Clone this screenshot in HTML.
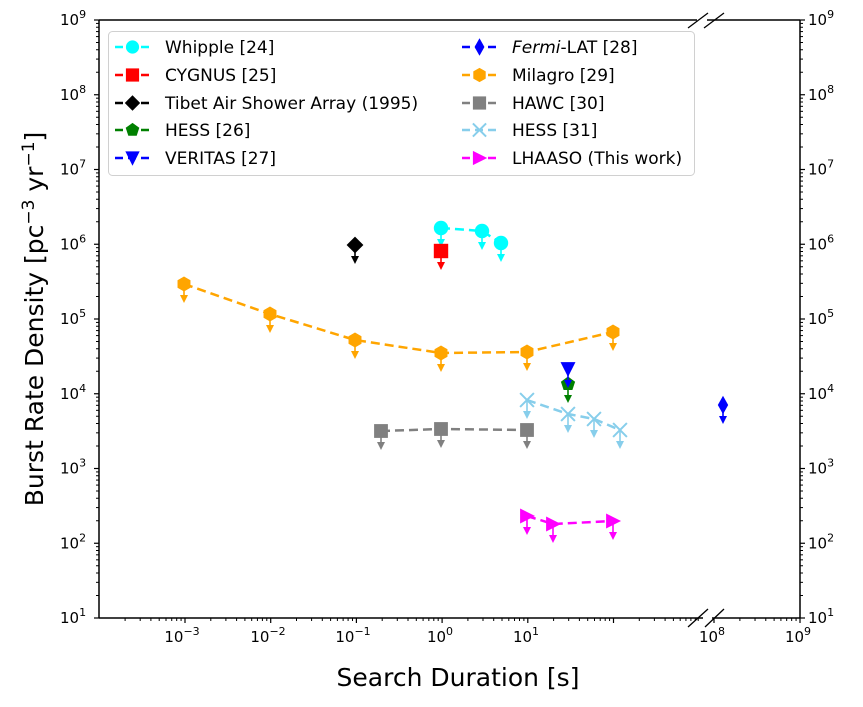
<!DOCTYPE html>
<html><head><meta charset="utf-8"><style>
body{margin:0;background:#fff;}
svg{display:block;font-family:"DejaVu Sans","Liberation Sans",sans-serif;}
</style></head><body>
<svg id="s" width="863" height="707" viewBox="0 0 863 707" xmlns="http://www.w3.org/2000/svg">
<rect width="863" height="707" fill="#fff"/>
<g id="g"></g>
<text x="458" y="686" font-size="25" text-anchor="middle">Search Duration [s]</text>
<text transform="translate(43,319) rotate(-90)" font-size="25" text-anchor="middle">Burst Rate Density [pc<tspan dy="-9" font-size="17">−3</tspan><tspan dy="9"> yr</tspan><tspan dy="-9" font-size="17">−1</tspan><tspan dy="9">]</tspan></text>
<g font-size="15" text-anchor="middle">
<text x="182" y="642">10<tspan dy="-7" font-size="11">−3</tspan></text>
<text x="268" y="642">10<tspan dy="-7" font-size="11">−2</tspan></text>
<text x="353" y="642">10<tspan dy="-7" font-size="11">−1</tspan></text>
<text x="440" y="642">10<tspan dy="-7" font-size="11">0</tspan></text>
<text x="526" y="642">10<tspan dy="-7" font-size="11">1</tspan></text>
<text x="712" y="642">10<tspan dy="-7" font-size="11">8</tspan></text>
<text x="798" y="642">10<tspan dy="-7" font-size="11">9</tspan></text>
</g>
<g id="yl" font-size="15"></g>
<rect x="108.5" y="31.5" width="586" height="144" rx="4" fill="#fff" stroke="#d0d0d0" stroke-width="1"/>
<g id="lg"></g>
<g font-size="17">
<text x="165" y="53">Whipple [24]</text>
<text x="165" y="81">CYGNUS [25]</text>
<text x="165" y="109">Tibet Air Shower Array (1995)</text>
<text x="165" y="136">HESS [26]</text>
<text x="165" y="164">VERITAS [27]</text>
<text x="512" y="53"><tspan font-style="italic">Fermi</tspan>-LAT [28]</text>
<text x="512" y="81">Milagro [29]</text>
<text x="512" y="109">HAWC [30]</text>
<text x="512" y="136">HESS [31]</text>
<text x="512" y="164">LHAASO (This work)</text>
</g>
</svg>
<script>
const NS="http://www.w3.org/2000/svg";
const g=document.getElementById('g');
const lg=document.getElementById('lg');
function el(t,a,p){const e=document.createElementNS(NS,t);for(const k in a)e.setAttribute(k,a[k]);(p||g).appendChild(e);return e;}
const X=l=>185+(l+3)*85.7, Y=l=>20+(9-l)*74.75;
const XR=l=>714+(l-8)*86;
el('line',{x1:99,y1:20,x2:697,y2:20,stroke:'#000','stroke-width':1.5});
el('line',{x1:707,y1:20,x2:800,y2:20,stroke:'#000','stroke-width':1.5});
el('line',{x1:99,y1:618,x2:703,y2:618,stroke:'#000','stroke-width':1.5});
el('line',{x1:712,y1:618,x2:800,y2:618,stroke:'#000','stroke-width':1.5});
el('line',{x1:99,y1:20,x2:99,y2:618,stroke:'#000','stroke-width':1.5});
el('line',{x1:800,y1:20,x2:800,y2:618,stroke:'#000','stroke-width':1.5});
[[688,28,708,13],[704,28,724,13],[688,627,708,609],[705,627,724,609]].forEach(b=>el('line',{x1:b[0],y1:b[1],x2:b[2],y2:b[3],stroke:'#000','stroke-width':1.3}));
const yl=document.getElementById('yl');
for(let d=1;d<=9;d++){const y=Y(d);
 el('line',{x1:94,y1:y,x2:99,y2:y,stroke:'#000','stroke-width':1.2});
 el('line',{x1:800,y1:y,x2:805,y2:y,stroke:'#000','stroke-width':1.2});
 let t=el('text',{x:60,y:y+5},yl);t.innerHTML='10<tspan dy="-7" font-size="11">'+d+'</tspan>';
 t=el('text',{x:808,y:y+5},yl);t.innerHTML='10<tspan dy="-7" font-size="11">'+d+'</tspan>';
 if(d<9)for(let m=2;m<10;m++){const yy=Y(d+Math.log10(m));
  el('line',{x1:96,y1:yy,x2:99,y2:yy,stroke:'#000','stroke-width':1});
  el('line',{x1:800,y1:yy,x2:803,y2:yy,stroke:'#000','stroke-width':1});}
}
for(let d=-4;d<=2;d++){
 if(d>=-3){el('line',{x1:X(d),y1:618,x2:X(d),y2:623,stroke:'#000','stroke-width':1.2});}
 for(let m=2;m<10;m++){const x=X(d+Math.log10(m)); if(x>99&&x<697) el('line',{x1:x,y1:618,x2:x,y2:621,stroke:'#000','stroke-width':1});}
}
el('line',{x1:X(3)-1,y1:618,x2:X(3)-1,y2:621,stroke:'#000'});
[8,9].forEach(d=>el('line',{x1:XR(d),y1:618,x2:XR(d),y2:623,stroke:'#000','stroke-width':1.2}));
for(let m=2;m<10;m++){const x=XR(8+Math.log10(m));el('line',{x1:x,y1:618,x2:x,y2:621,stroke:'#000'});}
function mk(type,x,y,c,s,p0){s=s||1;const P=p0||g;
 switch(type){
 case 'o':el('circle',{cx:x,cy:y,r:6*s,fill:c},P);break;
 case 's':el('rect',{x:x-6*s,y:y-6*s,width:12*s,height:12*s,fill:c},P);break;
 case 'D':el('polygon',{points:`${x},${y-7*s} ${x+7*s},${y} ${x},${y+7*s} ${x-7*s},${y}`,fill:c},P);break;
 case 'd':el('polygon',{points:`${x},${y-8*s} ${x+4.5*s},${y} ${x},${y+8*s} ${x-4.5*s},${y}`,fill:c},P);break;
 case 'p':{let p=[];for(let i=0;i<5;i++){const a=-Math.PI/2+i*2*Math.PI/5;p.push((x+6.5*s*Math.cos(a))+','+(y+6.5*s*Math.sin(a)));}el('polygon',{points:p.join(' '),fill:c},P);break;}
 case 'h':{let p=[];for(let i=0;i<6;i++){const a=-Math.PI/2+i*Math.PI/3;p.push((x+6.5*s*Math.cos(a))+','+(y+6.5*s*Math.sin(a)));}el('polygon',{points:p.join(' '),fill:c},P);break;}
 case 'v':el('polygon',{points:`${x-6.5*s},${y-6*s} ${x+6.5*s},${y-6*s} ${x},${y+7*s}`,fill:c},P);break;
 case '>':el('polygon',{points:`${x-6*s},${y-6.5*s} ${x-6*s},${y+6.5*s} ${x+7*s},${y}`,fill:c},P);break;
 case 'x':el('path',{d:`M${x-6*s} ${y-6*s}L${x+6*s} ${y+6*s}M${x-6*s} ${y+6*s}L${x+6*s} ${y-6*s}`,stroke:c,'stroke-width':2},P);break;
 }}
function arrow(x,y,c){el('line',{x1:x,y1:y,x2:x,y2:y+13,stroke:c,'stroke-width':1.6});
 el('polygon',{points:`${x-4},${y+11} ${x+4},${y+11} ${x},${y+19}`,fill:c});}
function series(pts,type,c,line,s){
 if(line&&pts.length>1)el('polyline',{points:pts.map(p=>p.join(',')).join(' '),fill:'none',stroke:c,'stroke-width':2.5,'stroke-dasharray':'9,5'});
 pts.forEach(p=>{arrow(p[0],p[1],c);mk(type,p[0],p[1],c,s||1.15);});
}
series([[184,284],[270,314],[355,340],[441,353],[527,352],[613,332]],'h','orange',1);
series([[381,431],[441,429],[527,430]],'s','gray',1);
series([[527,400],[568,414],[594,419],[620,430]],'x','skyblue',1);
series([[527,516],[553,524],[613,521]],'>','magenta',1);
series([[441,228],[482,231],[501,243]],'o','cyan',1,1.2);
series([[441,251]],'s','red',0,1.2);
series([[355,245]],'D','black',0,1.2);
series([[568,384]],'p','green');
series([[568,369]],'v','blue');
series([[723,405]],'d','blue');
const rows=[47,75,103,130,158];
const L1=[['o','cyan'],['s','red'],['D','black'],['p','green'],['v','blue']];
const L2=[['d','blue'],['h','orange'],['s','gray'],['x','skyblue'],['>','magenta']];
function lh(x0,y,t,c){el('line',{x1:x0,y1:y,x2:x0+35,y2:y,stroke:c,'stroke-width':2.5,'stroke-dasharray':'8,5'},lg);mk(t,x0+17.5,y,c,1.1,lg);}
rows.forEach((y,i)=>{lh(115,y,L1[i][0],L1[i][1]);lh(462,y,L2[i][0],L2[i][1]);});
</script>
</body></html>
